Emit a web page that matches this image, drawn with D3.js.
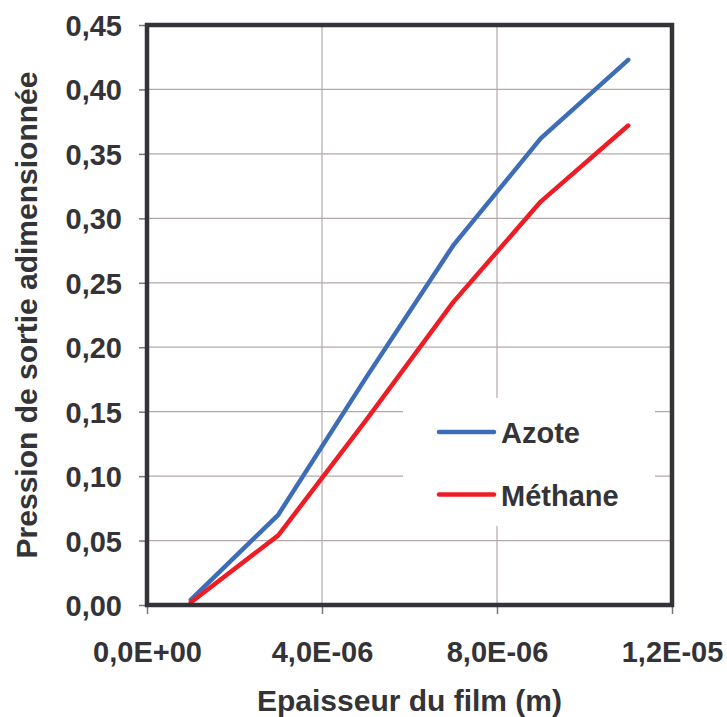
<!DOCTYPE html>
<html><head><meta charset="utf-8">
<script src="https://cdn.jsdelivr.net/npm/d3@7"></script>
<style>
html,body{margin:0;padding:0;background:#fff;}
text{font-family:"Liberation Sans",Arial,Helvetica,sans-serif;font-weight:bold;fill:#333338;}
</style></head>
<body><svg id="c" width="727" height="717"></svg>
<script>
const thickness = [1e-6, 3e-6, 5e-6, 7e-6, 9e-6, 1.1e-5];
const azote   = [0.004, 0.070, 0.176, 0.279, 0.362, 0.423];
const methane = [0.002, 0.054, 0.143, 0.235, 0.313, 0.372];
const seriesNames = ["Azote", "Méthane"];
const seriesColors = ["#3e6db8", "#ee1c25"];
const xTicks = [0, 4e-6, 8e-6, 1.2e-5];
const xTickLabels = ["0,0E+00", "4,0E-06", "8,0E-06", "1,2E-05"];
const yTicks = [0, 0.05, 0.10, 0.15, 0.20, 0.25, 0.30, 0.35, 0.40, 0.45];
const yTickLabels = ["0,00","0,05","0,10","0,15","0,20","0,25","0,30","0,35","0,40","0,45"];
const xTitle = "Epaisseur du film (m)";
const yTitle = "Pression de sortie adimensionnée";

const svg = d3.select("#c");
const L = 147, R = 672, T = 25, B = 605;
const x = d3.scaleLinear().domain([0, 1.2e-5]).range([L, R]);
const y = d3.scaleLinear().domain([0, 0.45]).range([B, T]);

// gridlines
const grid = svg.append("g").attr("stroke", "#b3a9aa").attr("stroke-width", 1.2);
grid.selectAll("line.h").data(yTicks.slice(1, -1)).join("line")
  .attr("x1", L).attr("x2", R).attr("y1", d => y(d)).attr("y2", d => y(d));
grid.selectAll("line.v").data(xTicks.slice(1, -1)).join("line")
  .attr("y1", T).attr("y2", B).attr("x1", d => x(d)).attr("x2", d => x(d));

// axes ticks & labels
const yAxis = d3.axisLeft(y).tickValues(yTicks).tickSize(8).tickPadding(20)
  .tickFormat((d, i) => yTickLabels[i]);
const gy = svg.append("g").attr("transform", `translate(${L},0)`).call(yAxis);
gy.select(".domain").remove();
gy.selectAll(".tick line").attr("stroke", "#777").attr("stroke-width", 1.5);
gy.selectAll(".tick text").attr("font-size", 29).attr("fill", "#333338")
  .attr("font-family", "Liberation Sans, Arial, sans-serif").attr("font-weight", "bold")
  .attr("x", -25).attr("dy", "0.36em");

const xAxis = d3.axisBottom(x).tickValues(xTicks).tickSize(9).tickPadding(14)
  .tickFormat((d, i) => xTickLabels[i]);
const gx = svg.append("g").attr("transform", `translate(0,${B})`).call(xAxis);
gx.select(".domain").remove();
gx.selectAll(".tick line").attr("stroke", "#777").attr("stroke-width", 1.5);
gx.selectAll(".tick text").attr("font-size", 29).attr("fill", "#333338")
  .attr("font-family", "Liberation Sans, Arial, sans-serif").attr("font-weight", "bold")
  .attr("y", 57).attr("dy", 0);

// lines
const line = d3.line().x((d, i) => x(thickness[i])).y(d => y(d));
[azote, methane].forEach((s, k) => {
  svg.append("path").datum(s).attr("d", line).attr("fill", "none")
    .attr("stroke", seriesColors[k]).attr("stroke-width", 4.5)
    .attr("stroke-linecap", "round").attr("stroke-linejoin", "round");
});

// frame
svg.append("rect").attr("x", L).attr("y", T).attr("width", R - L).attr("height", B - T)
  .attr("fill", "none").attr("stroke", "#333338").attr("stroke-width", 4.5);

// legend
const lg = svg.append("g");
lg.append("rect").attr("x", 403).attr("y", 398).attr("width", 252).attr("height", 128).attr("fill", "#fff");
seriesNames.forEach((n, k) => {
  const yy = 432 + k * 62.5;
  lg.append("line").attr("x1", 439).attr("x2", 494).attr("y1", yy).attr("y2", yy)
    .attr("stroke", seriesColors[k]).attr("stroke-width", 4.5).attr("stroke-linecap", "round");
  lg.append("text").attr("x", 501).attr("y", yy + 11).attr("font-size", 29).text(n);
});

// titles
svg.append("text").attr("x", (L + R) / 2).attr("y", 711).attr("text-anchor", "middle")
  .attr("font-size", 30).text(xTitle);
svg.append("text").attr("transform", `translate(37,${(T + B) / 2}) rotate(-90)`)
  .attr("text-anchor", "middle").attr("font-size", 30).text(yTitle);
</script></body></html>
